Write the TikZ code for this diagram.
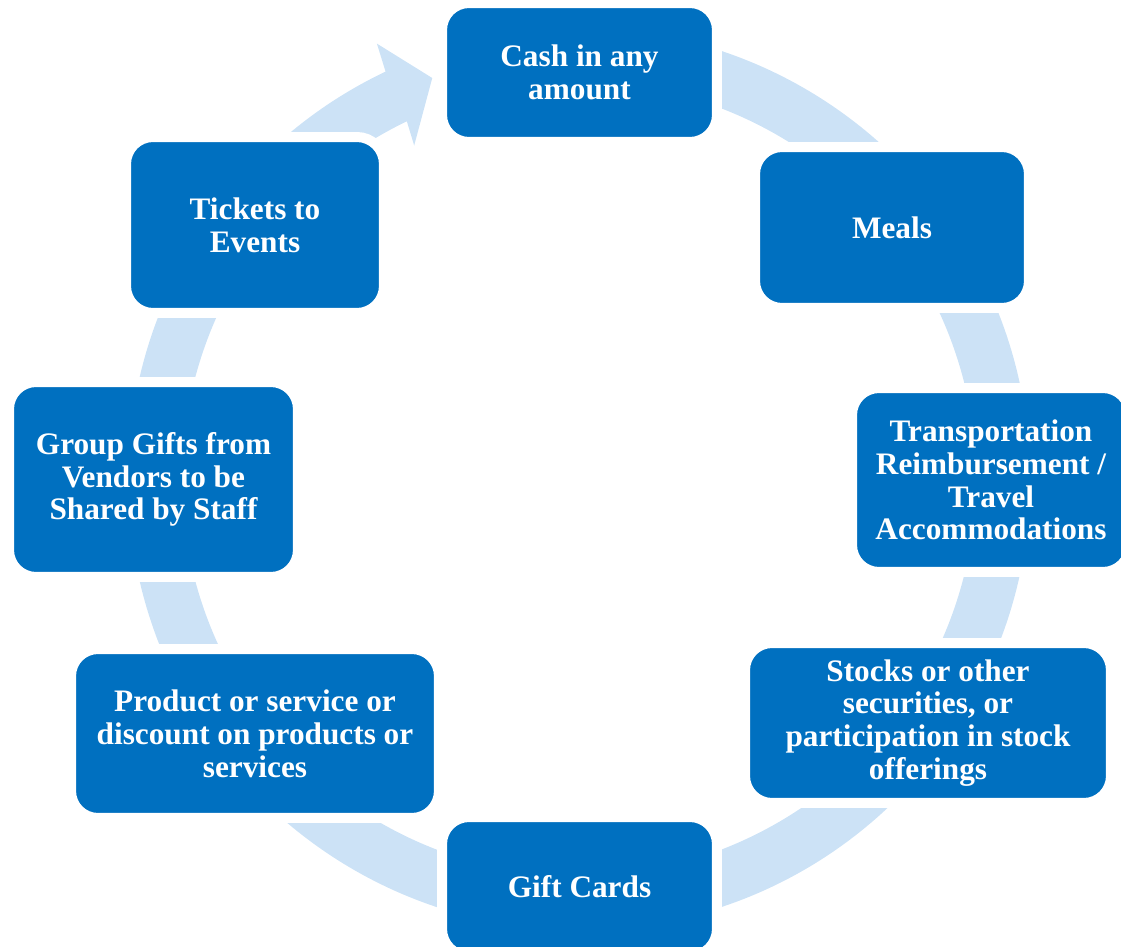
\documentclass[tikz,border=0pt]{standalone}
\usepackage{fontspec}
\setmainfont{Liberation Serif}
\definecolor{boxblue}{RGB}{0,112,192}
\definecolor{ringblue}{RGB}{204,226,246}
\begin{document}
\begin{tikzpicture}[x=0.02cm,y=0.02cm,
giftbox/.style={draw=white, line width=0.2cm, fill=boxblue, rounded corners=0.54cm, text=white, align=center, inner sep=0pt, font=\fontsize{17.8}{18.7}\selectfont\bfseries}]
\useasboundingbox (-579,-467) rectangle (542,479);
\clip (-579,-467) rectangle (542,479);

% ring with arrow head
\fill[ringblue] (95:451) arc[start angle=95, end angle=-244.6, radius=451]
-- (114.9:480) -- (110.1:427) -- (116.3:372) -- (-244.3:397)
arc[start angle=-244.3, end angle=95, radius=397] -- cycle;

\node (1) at (0.5,406.5) [giftbox, minimum width=5.5cm, minimum height=2.78cm] {Cash in any\\amount};
\node (2) at (313,251.5) [giftbox, minimum width=5.48cm, minimum height=3.22cm] {Meals};
\node (3) at (412,-1) [giftbox, minimum width=5.56cm, minimum height=3.68cm] {Transportation\\Reimbursement /\\Travel\\Accommodations};
\node (4) at (349,-244) [giftbox, minimum width=7.32cm, minimum height=3.2cm] {Stocks or other\\securities, or\\participation in stock\\offerings};
\node (5) at (0.5,-407.5) [giftbox, minimum width=5.5cm, minimum height=2.78cm] {Gift Cards};
\node (6) at (-324,-254.5) [giftbox, minimum width=7.36cm, minimum height=3.38cm] {Product or service or\\discount on products or\\services};
\node (7) at (-425.5,-0.5) [giftbox, minimum width=5.78cm, minimum height=3.9cm] {Group Gifts from\\Vendors to be\\Shared by Staff};
\node (8) at (-324,254) [giftbox, minimum width=5.16cm, minimum height=3.52cm] {Tickets to\\Events};
\end{tikzpicture}
\end{document}
